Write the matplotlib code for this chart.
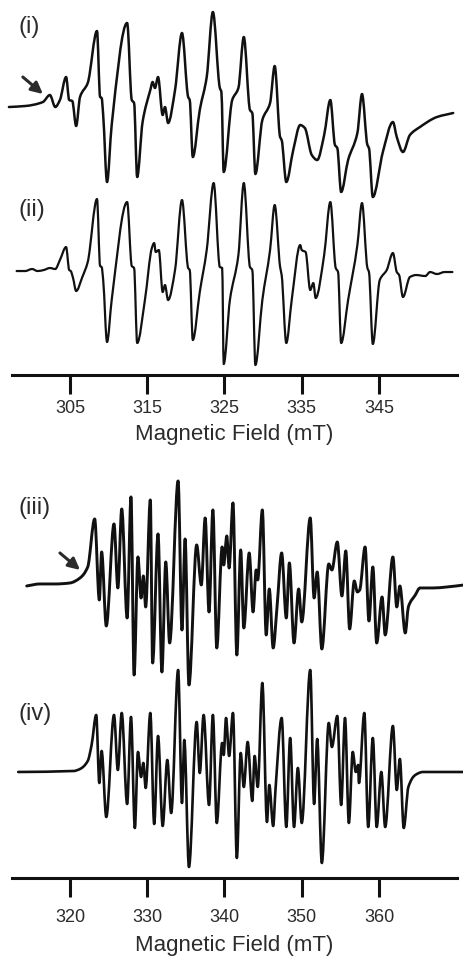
import matplotlib
matplotlib.use("Agg")
import matplotlib.pyplot as plt
from matplotlib.path import Path
from matplotlib.patches import PathPatch

plt.rcParams['font.family'] = ['Liberation Sans', 'DejaVu Sans']

# ---- spectrum (i): experimental, 297-355 mT ----
field_i = [297.1, 299.2, 301.5, 302.4, 303.1, 303.7, 304.5, 304.9, 305.3, 305.8,
           306.3, 307.3, 308.5, 308.9, 309.1, 309.3, 309.8, 310.4, 312.4, 313.0,
           313.3, 313.7, 314.4, 315.4, 315.7, 316.0, 316.4, 317.0, 317.3, 317.7,
           318.6, 319.5, 320.3, 320.5, 320.9, 321.8, 322.7, 323.5, 324.4, 324.6,
           324.9, 326.0, 326.8, 327.5, 328.3, 328.6, 329.0, 329.9, 330.9, 331.5,
           332.2, 332.4, 333.0, 333.9, 334.8, 335.4, 336.3, 337.0, 337.9, 338.7,
           339.3, 339.6, 340.1, 341.0, 342.2, 342.8, 343.5, 343.7, 344.2, 345.5,
           346.8, 347.3, 348.1, 349.0, 350.3, 352.5, 354.6]
signal_i = [0, 1, 5, 12, 0, 7, 30, 7, 6, -19,
            10, 24, 76, 10, 9, -8, -75, -18, 84, 7,
            4, -70, -15, 17, 25, 19, 30, -8, 0, -16,
            17, 74, 10, 7, -50, -3, 30, 95, 19, 15,
            -65, 7, 19, 70, -3, -6, -67, -13, 4, 41,
            -30, -33, -75, -43, -18, -21, -48, -53, -28, 7,
            -38, -41, -85, -53, -26, 13, -38, -41, -90, -45,
            -15, -30, -45, -28, -20, -10, -6]

# ---- spectrum (ii): simulation of (i) ----
field_ii = [298.1, 299.2, 300.1, 300.8, 301.6, 302.4, 303.1, 303.7, 304.5, 304.9,
            305.1, 305.4, 305.8, 306.6, 307.3, 308.5, 308.9, 309.1, 309.3, 309.8,
            310.4, 312.4, 313.0, 313.3, 313.7, 314.7, 315.6, 315.9, 316.1, 316.5,
            317.0, 317.3, 317.7, 318.6, 319.5, 320.3, 320.5, 320.9, 321.8, 322.7,
            323.6, 324.4, 324.7, 324.9, 325.7, 326.8, 327.5, 328.3, 328.6, 329.0,
            329.9, 330.9, 331.5, 332.2, 332.4, 333.0, 333.7, 334.8, 335.0, 335.5,
            336.1, 336.5, 336.8, 337.9, 338.7, 339.4, 339.7, 340.1, 341.0, 342.2,
            342.8, 343.5, 343.7, 344.2, 345.1, 346.0, 346.8, 347.3, 347.6, 348.1,
            349.0, 349.8, 351.0, 351.6, 352.5, 353.5, 354.5]
signal_ii = [-1, -1, 1, -1, 0, 2, 1, 10, 23, 0,
             -1, -8, -21, -7, 8, 71, 4, 3, -10, -72,
             -30, 68, 4, 2, -73, -30, 22, 27, 18, 20,
             -22, -15, -30, 0, 70, 2, 0, -70, -22, 20,
             87, 3, 2, -94, -30, 15, 87, 3, 0, -95,
             -30, 20, 65, 3, -5, -73, -30, 25, 20, 18,
             -20, -13, -28, 15, 68, 2, -2, -73, -30, 25,
             67, 2, -2, -74, -10, 0, 17, -2, -5, -27,
             -7, -5, -6, -2, -4, -2, -2]

# ---- spectrum (iii): experimental, 312-370 mT ----
field_iii = [314.4, 316.1, 318.1, 320.0, 321.3, 322.3, 323.2, 323.8, 324.1, 324.7,
             325.7, 326.2, 326.7, 327.4, 327.9, 328.3, 328.8, 329.2, 329.5, 329.8,
             330.4, 330.7, 331.4, 331.9, 332.4, 332.9, 334.0, 334.5, 334.9, 335.4,
             336.4, 337.0, 337.5, 338.0, 338.5, 339.0, 339.7, 339.9, 340.3, 340.6,
             341.1, 341.6, 342.1, 342.5, 343.2, 343.7, 344.1, 344.3, 344.9, 345.4,
             345.8, 346.3, 346.8, 347.4, 348.0, 348.4, 349.0, 349.6, 350.0, 351.1,
             351.6, 352.0, 352.6, 353.5, 353.9, 354.6, 355.2, 355.7, 356.2, 356.8,
             357.2, 357.5, 358.2, 358.7, 359.2, 359.7, 360.4, 360.8, 361.8, 362.3,
             362.7, 363.4, 363.8, 364.7, 365.3, 367.0, 368.8, 371.0]
signal_iii = [-1, 1, 1, 2, 7, 18, 66, -15, 33, -41,
              61, -3, 76, -33, 88, -90, 28, -13, 9, -22,
              85, -78, 51, -87, 23, -58, 104, -45, 46, -100,
              40, 0, 67, -27, 75, -63, 38, 20, 49, 17,
              82, -70, 35, -43, 32, -27, 15, 5, 75, -50,
              -4, -63, -22, 32, -33, 22, -58, -4, -37, 67,
              -13, 13, -64, 21, 15, 43, -11, 34, -44, 4,
              -7, -5, 38, -36, 18, -58, -12, -50, 28, -22,
              -1, -48, -22, -10, -3, -3, -2, 0]

# ---- spectrum (iv): simulation of (iii) ----
field_iv = [313.3, 320.5, 321.3, 322.3, 322.8, 323.4, 323.8, 324.1, 324.7, 325.7,
            326.2, 326.7, 327.4, 327.9, 328.4, 328.8, 329.2, 329.5, 329.8, 330.4,
            330.9, 331.4, 332.0, 332.6, 333.1, 334.0, 334.5, 334.8, 335.4, 336.4,
            336.8, 337.3, 338.0, 338.5, 339.0, 339.7, 339.9, 340.2, 340.6, 341.1,
            341.6, 342.1, 342.5, 343.0, 343.6, 343.9, 344.3, 344.9, 345.5, 345.8,
            346.3, 346.6, 347.4, 348.0, 348.5, 349.0, 349.5, 350.0, 351.1, 351.6,
            352.0, 352.6, 353.5, 353.9, 354.6, 355.1, 355.6, 356.1, 356.6, 357.0,
            357.3, 357.4, 358.1, 358.6, 359.2, 359.7, 360.3, 360.8, 361.8, 362.3,
            362.7, 363.2, 363.8, 364.7, 365.7, 370.9]
signal_iv = [0, 1, 3, 11, 27, 57, -11, 21, -45, 57,
             2, 59, -32, 55, -56, 20, -5, 9, -16, 59,
             -52, 36, -54, 12, -41, 102, -31, 32, -95, 50,
             -1, 57, -33, 57, -51, 29, 17, 54, 16, 59,
             -86, 19, -15, 30, -29, 16, -15, 89, -50, -13,
             -54, -18, 54, -55, 34, -55, 4, -51, 102, -32,
             33, -91, 49, 25, 56, -33, 54, -51, 20, 0,
             7, -11, 59, -55, 34, -55, 0, -55, 46, -18,
             13, -56, -15, -3, 0, 0]

ticks_top = [305, 315, 325, 335, 345]
ticks_bottom = [320, 330, 340, 350, 360]


def smooth_trace(ax, xs, ys, offset, lw):
    # monotone cubic (PCHIP-like) drawn as bezier segments through the read points
    ys = [v + offset for v in ys]
    n = len(xs)
    h = [xs[i + 1] - xs[i] for i in range(n - 1)]
    d = [(ys[i + 1] - ys[i]) / h[i] for i in range(n - 1)]
    m = [0.0] * n
    m[0], m[-1] = d[0], d[-1]
    for i in range(1, n - 1):
        if d[i - 1] * d[i] > 0:
            w1 = 2 * h[i] + h[i - 1]
            w2 = h[i] + 2 * h[i - 1]
            m[i] = (w1 + w2) / (w1 / d[i - 1] + w2 / d[i])
    verts = [(xs[0], ys[0])]
    codes = [Path.MOVETO]
    for i in range(n - 1):
        verts += [(xs[i] + h[i] / 3, ys[i] + m[i] * h[i] / 3),
                  (xs[i + 1] - h[i] / 3, ys[i + 1] - m[i + 1] * h[i] / 3),
                  (xs[i + 1], ys[i + 1])]
        codes += [Path.CURVE4] * 3
    ax.add_patch(PathPatch(Path(verts, codes), fill=False, edgecolor='#111111', lw=lw,
                           joinstyle='round', capstyle='round', clip_on=False))


fig = plt.figure(figsize=(4.64, 9.56), dpi=100)
ax1 = fig.add_axes([0.0259, 0.6077, 0.9591, 0.3923])
ax2 = fig.add_axes([0.0259, 0.0816, 0.9591, 0.4582])

ink = '#111111'
txt = '#2b2b2b'

smooth_trace(ax1, field_i, signal_i, 268, 1.8)
smooth_trace(ax1, field_ii, signal_ii, 105, 1.6)
smooth_trace(ax2, field_iii, signal_iii, 293, 2.1)
smooth_trace(ax2, field_iv, signal_iv, 106, 1.9)

ax1.set_xlim(297.5, 355.1)
ax1.set_ylim(0, 375)
ax2.set_xlim(312.5, 370.1)
ax2.set_ylim(0, 438)

for ax, ticks, pad, lpad in ((ax1, ticks_top, 4, 5.0), (ax2, ticks_bottom, 8.0, 6.5)):
    for side in ('left', 'right', 'top'):
        ax.spines[side].set_visible(False)
    ax.spines['bottom'].set_linewidth(2.2)
    ax.spines['bottom'].set_color(ink)
    ax.set_yticks([])
    ax.set_xticks(ticks)
    ax.tick_params(axis='x', direction='out', length=14, width=2.2, color=ink,
                   labelsize=13, labelcolor=txt, pad=pad)
    ax.set_xlabel('Magnetic Field (mT)', fontsize=16, color=txt, labelpad=lpad)
    ax.patch.set_alpha(0)

ax1.text(298.3, 348, '(i)', fontsize=17, color=txt, ha='left', va='center')
ax1.text(298.3, 165, '(ii)', fontsize=17, color=txt, ha='left', va='center')
ax2.text(313.3, 370, '(iii)', fontsize=17, color=txt, ha='left', va='center')
ax2.text(313.3, 164, '(iv)', fontsize=17, color=txt, ha='left', va='center')

arrow = dict(arrowstyle='-|>', lw=2.2, color=txt, mutation_scale=17, shrinkA=0, shrinkB=0)
ax1.annotate('', xy=(301.5, 281), xytext=(298.9, 298), arrowprops=arrow)
ax2.annotate('', xy=(321.3, 308), xytext=(318.7, 325), arrowprops=arrow)

fig.savefig('out.png', dpi=100)
